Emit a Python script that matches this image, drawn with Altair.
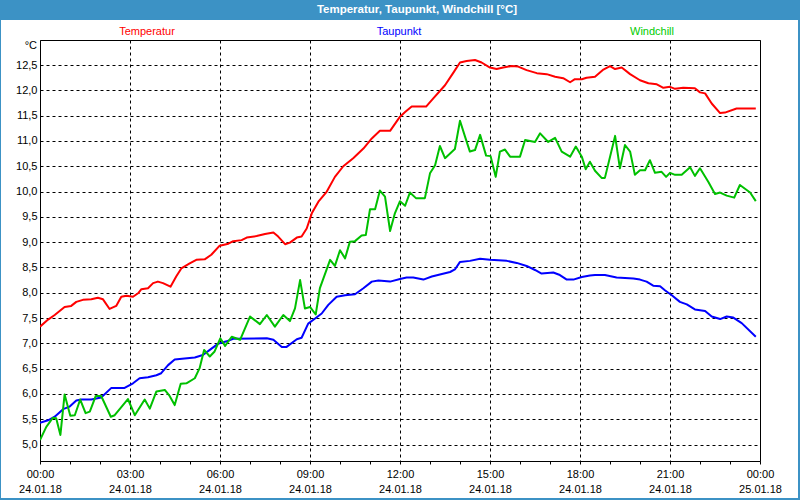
import altair as alt
import pandas as pd

# ---- data (hour of day, value in °C) ----
series_names = ["Temperatur", "Taupunkt", "Windchill"]
series_colors = ["#ff0000", "#0000ff", "#00c000"]
legend_colors = ["#ff0000", "#0000ff", "#00cc00"]

temperatur = [
    (0, 7.33), (0.27, 7.47), (0.49, 7.56), (0.82, 7.72), (1.04, 7.74), (1.21, 7.82),
    (1.43, 7.86), (1.71, 7.87), (1.93, 7.90), (2.1, 7.87), (2.32, 7.68), (2.54, 7.74),
    (2.71, 7.92), (2.88, 7.94), (3.1, 7.92), (3.27, 7.99), (3.38, 8.07), (3.6, 8.09),
    (3.77, 8.19), (3.93, 8.22), (4.1, 8.19), (4.35, 8.12), (4.54, 8.32), (4.71, 8.48),
    (4.99, 8.58), (5.21, 8.65), (5.49, 8.66), (5.71, 8.75), (5.99, 8.93), (6.28, 8.97),
    (6.44, 9.02), (6.72, 9.04), (6.89, 9.09), (7.22, 9.12), (7.5, 9.16), (7.78, 9.19),
    (7.94, 9.11), (8.17, 8.96), (8.33, 8.99), (8.56, 9.09), (8.72, 9.11), (8.89, 9.27),
    (9.06, 9.57), (9.28, 9.80), (9.56, 10.00), (9.83, 10.29), (10.11, 10.50), (10.44, 10.66),
    (10.78, 10.85), (11.06, 11.05), (11.33, 11.20), (11.67, 11.20), (12.0, 11.48), (12.17, 11.57),
    (12.39, 11.68), (12.87, 11.68), (13.11, 11.84), (13.5, 12.10), (13.78, 12.35), (14.0, 12.55),
    (14.22, 12.58), (14.5, 12.60), (14.72, 12.55), (15.0, 12.45), (15.22, 12.42), (15.44, 12.45),
    (15.72, 12.48), (15.94, 12.47), (16.22, 12.40), (16.56, 12.34), (16.89, 12.32), (17.17, 12.27),
    (17.44, 12.24), (17.67, 12.16), (17.83, 12.22), (18.06, 12.22), (18.22, 12.25), (18.5, 12.27),
    (18.78, 12.41), (19.0, 12.48), (19.17, 12.42), (19.39, 12.45), (19.67, 12.32), (20.0, 12.20),
    (20.28, 12.14), (20.56, 12.12), (20.78, 12.05), (21.0, 12.07), (21.17, 12.03), (21.44, 12.05),
    (21.83, 12.04), (22.0, 11.96), (22.17, 11.94), (22.39, 11.74), (22.67, 11.55), (22.83, 11.56),
    (23.22, 11.64), (23.86, 11.64),
]

taupunkt = [
    (0, 5.43), (0.27, 5.48), (0.49, 5.55), (0.77, 5.70), (0.99, 5.75), (1.21, 5.87),
    (1.38, 5.89), (1.71, 5.89), (2.04, 5.93), (2.38, 6.12), (2.82, 6.12), (3.1, 6.21),
    (3.32, 6.31), (3.6, 6.33), (3.88, 6.37), (4.04, 6.41), (4.27, 6.57), (4.49, 6.68),
    (4.82, 6.70), (5.16, 6.72), (5.43, 6.77), (5.66, 6.87), (5.93, 6.99), (6.22, 7.04),
    (6.44, 7.09), (7.56, 7.10), (7.78, 7.07), (8.06, 6.93), (8.22, 6.93), (8.56, 7.08),
    (8.72, 7.11), (8.94, 7.39), (9.17, 7.49), (9.39, 7.59), (9.61, 7.76), (9.89, 7.92),
    (10.17, 7.95), (10.5, 7.97), (10.78, 8.09), (11.06, 8.22), (11.28, 8.24), (11.67, 8.22),
    (12.0, 8.27), (12.22, 8.30), (12.44, 8.30), (12.78, 8.26), (13.06, 8.32), (13.33, 8.36),
    (13.67, 8.41), (13.83, 8.46), (14.0, 8.61), (14.33, 8.63), (14.67, 8.67), (15.0, 8.65),
    (15.56, 8.63), (15.89, 8.59), (16.22, 8.53), (16.5, 8.45), (16.72, 8.38), (17.11, 8.40),
    (17.33, 8.35), (17.56, 8.26), (17.78, 8.26), (18.06, 8.31), (18.33, 8.34), (18.5, 8.35),
    (18.83, 8.35), (19.22, 8.30), (19.78, 8.28), (20.0, 8.26), (20.22, 8.22), (20.44, 8.14),
    (20.67, 8.13), (20.83, 8.05), (21.06, 7.95), (21.33, 7.82), (21.56, 7.77), (21.83, 7.67),
    (22.17, 7.64), (22.39, 7.53), (22.67, 7.48), (22.89, 7.53), (23.11, 7.51), (23.39, 7.40),
    (23.86, 7.13),
]

windchill = [
    (0, 5.09), (0.21, 5.35), (0.43, 5.53), (0.54, 5.52), (0.68, 5.19), (0.82, 5.99),
    (1.01, 5.57), (1.16, 5.58), (1.34, 5.89), (1.52, 5.62), (1.66, 5.65), (1.86, 5.96),
    (2.04, 5.96), (2.36, 5.55), (2.49, 5.58), (2.93, 5.90), (3.16, 5.58), (3.49, 5.89),
    (3.66, 5.71), (3.88, 6.05), (4.16, 6.08), (4.32, 5.96), (4.49, 5.78), (4.69, 6.20),
    (4.88, 6.21), (5.16, 6.31), (5.32, 6.51), (5.47, 6.87), (5.66, 6.74), (5.82, 6.84),
    (6.01, 7.10), (6.17, 6.95), (6.39, 7.13), (6.67, 7.07), (7.0, 7.53), (7.33, 7.38),
    (7.56, 7.56), (7.83, 7.33), (8.11, 7.56), (8.33, 7.44), (8.5, 7.69), (8.67, 8.25),
    (8.83, 7.69), (9.0, 7.72), (9.19, 7.57), (9.33, 8.09), (9.67, 8.65), (9.83, 8.53),
    (10.0, 8.84), (10.17, 8.68), (10.33, 9.01), (10.5, 9.02), (10.72, 9.13), (10.86, 9.14),
    (11.0, 9.65), (11.17, 9.65), (11.33, 10.02), (11.5, 9.90), (11.67, 9.22), (11.83, 9.57),
    (12.0, 9.81), (12.17, 9.72), (12.33, 9.98), (12.53, 9.87), (12.83, 9.87), (13.0, 10.36),
    (13.17, 10.52), (13.33, 10.90), (13.5, 10.66), (13.83, 10.84), (14.0, 11.40), (14.17, 11.08),
    (14.33, 10.79), (14.5, 10.82), (14.67, 11.12), (14.87, 10.71), (15.02, 10.70), (15.19, 10.29),
    (15.33, 10.79), (15.5, 10.83), (15.67, 10.69), (16.0, 10.69), (16.17, 11.02), (16.5, 10.98),
    (16.67, 11.15), (16.94, 10.98), (17.17, 11.06), (17.39, 10.79), (17.67, 10.69), (17.86, 10.89),
    (18.06, 10.69), (18.19, 10.44), (18.33, 10.59), (18.5, 10.41), (18.72, 10.27), (18.83, 10.27),
    (19.17, 11.10), (19.33, 10.46), (19.5, 10.92), (19.67, 10.79), (19.83, 10.33), (20.0, 10.42),
    (20.17, 10.42), (20.33, 10.62), (20.5, 10.37), (20.72, 10.39), (20.87, 10.29), (21.0, 10.37),
    (21.17, 10.33), (21.39, 10.33), (21.67, 10.48), (21.83, 10.31), (22.0, 10.46), (22.28, 10.19),
    (22.5, 9.95), (22.67, 9.98), (22.89, 9.92), (23.14, 9.88), (23.33, 10.13), (23.67, 9.98),
    (23.86, 9.81),
]

x_tick_hours = list(range(25))
x_tick_labels = ["00:00|24.01.18", "03:00|24.01.18", "06:00|24.01.18", "09:00|24.01.18",
                 "12:00|24.01.18", "15:00|24.01.18", "18:00|24.01.18", "21:00|24.01.18",
                 "00:00|25.01.18"]
y_tick_values = [5.0, 5.5, 6.0, 6.5, 7.0, 7.5, 8.0, 8.5, 9.0, 9.5, 10.0, 10.5, 11.0, 11.5, 12.0, 12.5]
y_tick_labels = ["5,0", "5,5", "6,0", "6,5", "7,0", "7,5", "8,0", "8,5", "9,0", "9,5",
                 "10,0", "10,5", "11,0", "11,5", "12,0", "12,5"]

title_text = "Temperatur, Taupunkt, Windchill [°C]"
unit_text = "°C"

FONT = "Liberation Sans"
W, H = 720, 421
FRAME = "#3c92c5"

x_label_expr = ("datum.value % 3 == 0 ? split(" + str(x_tick_labels).replace("'", '"') +
                "[round(datum.value / 3)], '|') : ''")
y_label_expr = str(y_tick_labels).replace("'", '"') + "[round((datum.value - 5) * 2)]"

x_enc = alt.X("h:Q",
              scale=alt.Scale(domain=[0, 24], nice=False, zero=False),
              axis=alt.Axis(values=x_tick_hours, title=None, domain=False,
                            grid=True, gridColor="black", gridDash=[3, 3], gridWidth=1,
                            gridOpacity={"condition": {"test": "datum.value % 3 == 0", "value": 1},
                                         "value": 0},
                            ticks=True, tickSize=3, tickColor="black", tickWidth=1,
                            labelExpr=x_label_expr, labelFont=FONT, labelFontSize=11,
                            labelColor="#000000", labelLineHeight=15, labelPadding=4,
                            labelOverlap=False, labelFlush=False, labelBound=False,
                            labelBaseline="top"))
y_enc = alt.Y("v:Q",
              scale=alt.Scale(domain=[4.675, 12.995], nice=False, zero=False),
              axis=alt.Axis(values=y_tick_values, title=None, domain=False,
                            grid=True, gridColor="black", gridDash=[3, 3], gridWidth=1,
                            ticks=False, labelExpr=y_label_expr, labelFont=FONT,
                            labelFontSize=11, labelColor="#000000", labelPadding=3,
                            labelOverlap=False))

layers = []
for name, pts, col in zip(series_names, [temperatur, taupunkt, windchill], series_colors):
    d = pd.DataFrame(pts, columns=["h", "v"])
    layers.append(alt.Chart(d).mark_line(color=col, strokeWidth=2, clip=True,
                                         strokeJoin="round").encode(x=x_enc, y=y_enc))

one = pd.DataFrame({"a": [0]})

def rect(x1, x2, y1, y2, color):
    return alt.Chart(one).mark_rect(color=color, strokeWidth=0).encode(
        x=alt.value(x1), x2=alt.value(x2), y=alt.value(y1), y2=alt.value(y2))

frame = [
    rect(-40, 760, -40, -20, FRAME),      # title bar
    rect(-40, -39, -40, 460, FRAME),      # left border
    rect(758, 760, -40, 460, FRAME),      # right border
    rect(-40, 760, 458, 460, FRAME),      # bottom border
]

title = alt.Chart(one).mark_text(font=FONT, fontSize=11.5, fontWeight="bold", color="white",
                                 align="center", baseline="middle").encode(
    x=alt.value(377), y=alt.value(-30), text=alt.value(title_text))

unit = alt.Chart(one).mark_text(font=FONT, fontSize=11, color="black",
                                align="right", baseline="middle").encode(
    x=alt.value(-3), y=alt.value(6), text=alt.value(unit_text))

legend_x = [107, 359, 612]
legend_layers = [
    alt.Chart(one).mark_text(font=FONT, fontSize=11, color=c, align="center",
                             baseline="middle").encode(
        x=alt.value(lx), y=alt.value(-8), text=alt.value(n))
    for n, c, lx in zip(series_names, legend_colors, legend_x)
]

chart = alt.layer(*layers, *frame, title, unit, *legend_layers).properties(
    width=W, height=H,
    padding={"left": 40, "top": 40, "right": 40, "bottom": 39},
    autosize="none",
    background="white",
).configure_view(stroke="black", strokeWidth=1)

chart.save("out.html", embed_options={"renderer": "svg", "actions": False})
